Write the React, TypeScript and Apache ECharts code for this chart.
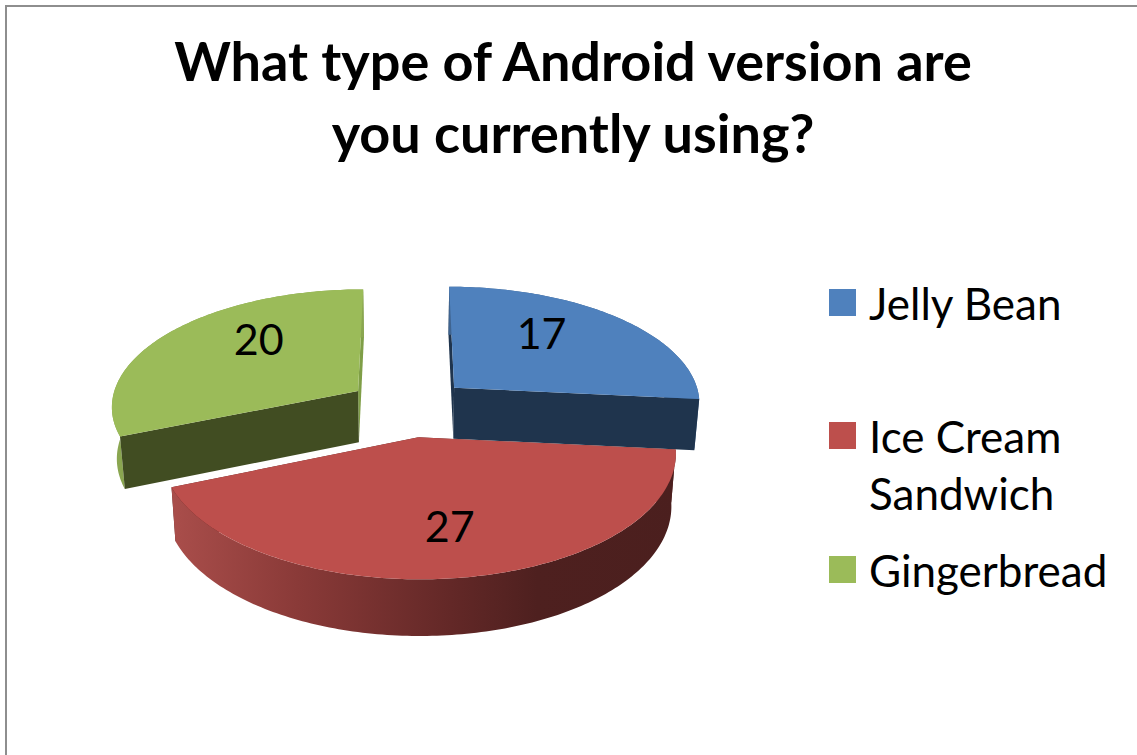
import React, { useEffect, useRef } from "react";
import * as echarts from "echarts";

const TITLE = "What type of Android version are\nyou currently using?";
const versions = ["Jelly Bean", "Ice Cream Sandwich", "Gingerbread"];
const users = [17, 27, 20];
const total = users.reduce((a, b) => a + b, 0);

const topColors = ["#4f81bd", "#bd4f4c", "#9bbb59"];
const frontColors = ["#1f344d", "#5a2322", "#414d22"];
const backColors = ["#1f344d", "#5a2322", "#7f9e47"];
const FONT = "Lato, Carlito, sans-serif";

// Tilted-pie camera: plane coordinates are mapped through a perspective divide.
const VANISH_X = 407;
const HORIZON_Y = 420;
const PERSPECTIVE = 0.00048;
const TILT = 0.48;
const RADIUS = 251;
const CENTER_X = 2;
const CENTER_Y = -27;
const EXPLODE = 63;
const BOTTOM_SCALE = 1.017;

// Where each value label sits on its slice: clockwise angle in degrees and radius.
const labelAngle = [37.3, 170.5, 318];
const labelRadius = [163, 166, 166];
const legendTops = [274, 350, 541];

const rad = (d: number) => (d * Math.PI) / 180;

function project(x: number, y: number): number[] {
  const s = 1 / (1 - PERSPECTIVE * y);
  return [VANISH_X + x * s, HORIZON_Y + TILT * y * s];
}

// The same plane point on the underside of the slab.
function lower(p: number[]): number[] {
  const depth = 51 + 0.03 * (p[1] - 390);
  return [VANISH_X + (p[0] - VANISH_X) / BOTTOM_SCALE, p[1] + depth];
}

function sliceRange(index: number): number[] {
  const before = users.slice(0, index).reduce((a, b) => a + b, 0);
  return [(before / total) * 360, ((before + users[index]) / total) * 360];
}

function renderSlice(index: number) {
  return (_params: unknown, api: any) => {
    const value = api.value(0);
    const [from, to] = sliceRange(index);
    const mid = (from + to) / 2;
    const ox = CENTER_X + EXPLODE * Math.sin(rad(mid));
    const oy = CENTER_Y - EXPLODE * Math.cos(rad(mid));
    const at = (deg: number, r: number) =>
      project(ox + r * Math.sin(rad(deg)), oy - r * Math.cos(rad(deg)));

    const apex = at(0, 0);
    const rim: number[][] = [];
    const steps = Math.ceil(to - from);
    for (let i = 0; i <= steps; i++) rim.push(at(from + ((to - from) * i) / steps, RADIUS));
    const first = rim[0];
    const last = rim[rim.length - 1];

    const rimFill =
      index === 1
        ? new echarts.graphic.LinearGradient(
            170, 0, 680, 0,
            [
              { offset: 0, color: "#aa4e4b" },
              { offset: 0.25, color: "#8a3a38" },
              { offset: 0.55, color: "#632827" },
              { offset: 0.72, color: "#4e201f" },
              { offset: 1, color: "#4b1f1e" },
            ],
            true,
          )
        : index === 2
          ? "#8aa650"
          : "#3f6490";

    const quad = (a: number[], b: number[], fill: string) => ({
      type: "polygon",
      shape: { points: [a, b, lower(b), lower(a)] },
      style: { fill },
    });
    const rimFace = {
      type: "polygon",
      shape: { points: [...rim, ...rim.slice().reverse().map(lower)] },
      style: { fill: rimFill },
    };

    // Painter's order: cut faces turned away go first, the one facing the viewer follows the rim.
    const layers =
      index === 0
        ? [quad(apex, first, backColors[0]), rimFace, quad(apex, last, frontColors[0])]
        : index === 1
          ? [quad(apex, first, backColors[1]), quad(apex, last, backColors[1]), rimFace]
          : [quad(apex, last, backColors[2]), rimFace, quad(apex, first, frontColors[2])];

    const label = at(labelAngle[index], labelRadius[index]);
    return {
      type: "group",
      children: [
        ...layers,
        {
          type: "polygon",
          shape: { points: [apex, ...rim] },
          style: { fill: topColors[index] },
        },
        {
          type: "text",
          style: {
            x: label[0],
            y: label[1],
            text: String(value),
            fontFamily: FONT,
            fontSize: 43,
            fill: "#000",
            align: "center",
            verticalAlign: "middle",
          },
        },
      ],
    };
  };
}

export default function App() {
  const ref = useRef<HTMLDivElement>(null);

  useEffect(() => {
    document.body.style.margin = "0";
    const chart = echarts.init(ref.current!, null, { renderer: "svg" });
    chart.setOption({
      animation: false,
      backgroundColor: "#fff",
      title: {
        text: TITLE,
        left: 568,
        top: 19,
        textAlign: "center",
        textStyle: {
          fontFamily: FONT,
          fontSize: 54,
          fontWeight: "bold",
          color: "#000",
          lineHeight: 72,
        },
      },
      legend: versions.map((name, i) => ({
        data: [name],
        left: 829,
        top: legendTops[i],
        orient: "vertical",
        icon: "rect",
        itemWidth: 27,
        itemHeight: 27,
        padding: 0,
        selectedMode: false,
        // A blank leading line keeps the swatch level with the first line of a wrapped name.
        formatter: (n: string) => n.replace(/^(.*Cream) /, "\n$1\n"),
        textStyle: {
          fontFamily: FONT,
          fontSize: 44,
          color: "#000",
          lineHeight: 57,
          padding: [0, 0, 0, 8],
        },
      })),
      graphic: [
        {
          type: "polyline",
          shape: { points: [[6, 755], [6, 6], [1137, 6]] },
          style: { stroke: "#8e8e8e", lineWidth: 2, fill: "none" },
        },
      ],
      series: versions.map((name, i) => ({
        type: "custom",
        name,
        coordinateSystem: "none",
        silent: true,
        z: i === 1 ? 3 : 2,
        itemStyle: { color: topColors[i] },
        data: [users[i]],
        renderItem: renderSlice(i),
      })),
    });
    return () => chart.dispose();
  }, []);

  return <div ref={ref} style={{ width: 1137, height: 755 }} />;
}
